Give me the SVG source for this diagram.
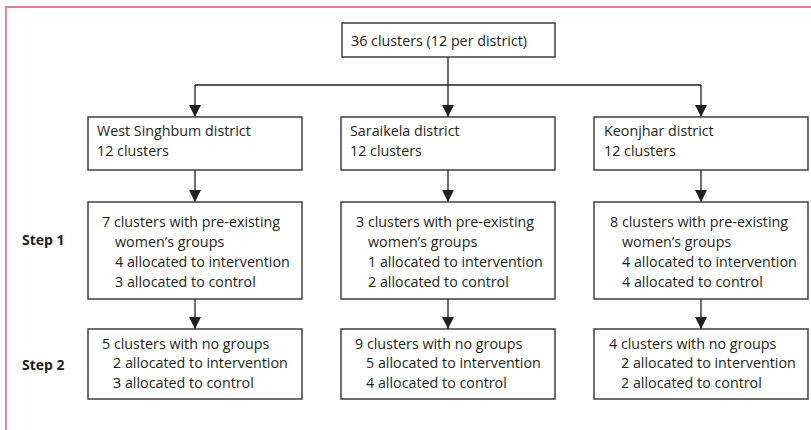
<svg xmlns="http://www.w3.org/2000/svg" width="811" height="430" viewBox="0 0 811 430">
<defs>
<marker id="ah" markerUnits="userSpaceOnUse" markerWidth="12" markerHeight="12" viewBox="0 0 12 12" refX="12" refY="6" orient="auto">
<path d="M0,0 L12,6 L0,12 Z" fill="#231f20"/>
</marker>
</defs>
<style>
.bg{fill:#ffffff}
.box{fill:#ffffff;stroke:#333333;stroke-width:1.4}
.t{font-family:"Open Sans","Noto Sans","Liberation Sans",sans-serif;font-size:14.3px;fill:#231f20}
.s{font-family:"Open Sans","Noto Sans","Liberation Sans",sans-serif;font-size:14px;font-weight:bold;fill:#231f20}
.c{fill:none;stroke:#231f20;stroke-width:1.3}
.frame{fill:none;stroke:#d9819b;stroke-width:1.8}
</style>
<rect class="bg" x="0" y="0" width="811" height="430"/>
<path class="frame" d="M6,430 L6,7 L811,7"/>
<g id="connectors">
<path class="c" d="M448,57 L448,85 M195,85 L701,85"/>
<path class="c" d="M195,85 L195,117" marker-end="url(#ah)"/>
<path class="c" d="M448,85 L448,117" marker-end="url(#ah)"/>
<path class="c" d="M701,85 L701,117" marker-end="url(#ah)"/>
<path class="c" d="M195,170 L195,202" marker-end="url(#ah)"/>
<path class="c" d="M448,170 L448,202" marker-end="url(#ah)"/>
<path class="c" d="M701,170 L701,202" marker-end="url(#ah)"/>
<path class="c" d="M195,299 L195,329" marker-end="url(#ah)"/>
<path class="c" d="M448,299 L448,329" marker-end="url(#ah)"/>
<path class="c" d="M701,299 L701,329" marker-end="url(#ah)"/>
</g>
<g id="top">
<rect class="box" x="342" y="23" width="213" height="34"/>
<text class="t" x="351" y="46">36 clusters (12 per district)</text>
</g>
<g id="west">
<rect class="box" x="88" y="117" width="214" height="53"/>
<text class="t" x="97" y="136">West Singhbum district</text>
<text class="t" x="97" y="156">12 clusters</text>
</g>
<g id="saraikela">
<rect class="box" x="341" y="117" width="214" height="53"/>
<text class="t" x="350" y="136">Saraikela district</text>
<text class="t" x="350" y="156">12 clusters</text>
</g>
<g id="keonjhar">
<rect class="box" x="594" y="117" width="214" height="53"/>
<text class="t" x="604" y="136">Keonjhar district</text>
<text class="t" x="604" y="156">12 clusters</text>
</g>
<g id="step1-label">
<text class="s" x="22" y="245">Step 1</text>
</g>
<g id="step2-label">
<text class="s" x="22" y="370">Step 2</text>
</g>
<g id="west-step1">
<rect class="box" x="88" y="202" width="214" height="97"/>
<text class="t" x="102" y="227">7 clusters with pre-existing</text>
<text class="t" x="115" y="247">women’s groups</text>
<text class="t" x="115" y="267">4 allocated to intervention</text>
<text class="t" x="115" y="287">3 allocated to control</text>
</g>
<g id="saraikela-step1">
<rect class="box" x="341" y="202" width="214" height="97"/>
<text class="t" x="356" y="227">3 clusters with pre-existing</text>
<text class="t" x="368" y="247">women’s groups</text>
<text class="t" x="368" y="267">1 allocated to intervention</text>
<text class="t" x="368" y="287">2 allocated to control</text>
</g>
<g id="keonjhar-step1">
<rect class="box" x="594" y="202" width="214" height="97"/>
<text class="t" x="610" y="227">8 clusters with pre-existing</text>
<text class="t" x="622" y="247">women’s groups</text>
<text class="t" x="622" y="267">4 allocated to intervention</text>
<text class="t" x="622" y="287">4 allocated to control</text>
</g>
<g id="west-step2">
<rect class="box" x="88" y="329" width="214" height="70"/>
<text class="t" x="102" y="349">5 clusters with no groups</text>
<text class="t" x="113" y="368">2 allocated to intervention</text>
<text class="t" x="113" y="388">3 allocated to control</text>
</g>
<g id="saraikela-step2">
<rect class="box" x="341" y="329" width="214" height="70"/>
<text class="t" x="355" y="349">9 clusters with no groups</text>
<text class="t" x="366" y="368">5 allocated to intervention</text>
<text class="t" x="366" y="388">4 allocated to control</text>
</g>
<g id="keonjhar-step2">
<rect class="box" x="594" y="329" width="214" height="70"/>
<text class="t" x="609" y="349">4 clusters with no groups</text>
<text class="t" x="621" y="368">2 allocated to intervention</text>
<text class="t" x="621" y="388">2 allocated to control</text>
</g>
</svg>
